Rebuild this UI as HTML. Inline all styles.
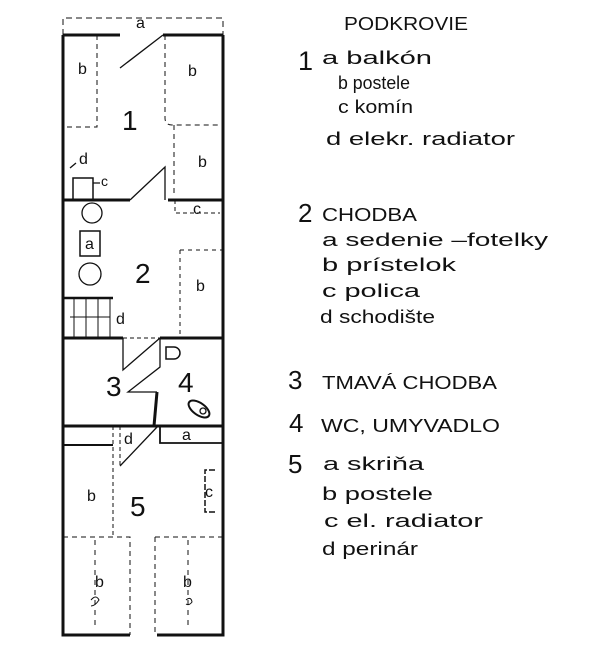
<!DOCTYPE html>
<html><head><style>
body{margin:0;background:#fff;width:600px;height:662px;overflow:hidden}
svg text{font-family:"Liberation Sans",sans-serif;fill:#111}
</style></head><body>
<svg width="600" height="662" viewBox="0 0 600 662">
<g stroke="#111" fill="none">
<path d="M63,35 V635 H130 M157,635 H223 V35" stroke-width="3"/>
<path d="M63,35 H120 M163,35 H223" stroke-width="3"/>
<path d="M63,35 V18 H223 V35" stroke-width="1" stroke-dasharray="6,4"/>
<path d="M120,68 L163,35 M130,200 L165,167 V200" stroke-width="1.3"/>
<path d="M63,200 H130 M168,200 H223" stroke-width="3"/>
<path d="M97,35 V127 H63 M165,35 V118 Q165,125 172,125 H222 M174,125 V195" stroke-width="1" stroke-dasharray="5,4"/>
<path d="M175,200 V213 H220" stroke-width="1" stroke-dasharray="4,3"/>
<rect x="73" y="178" width="20" height="22" stroke-width="1.5"/>
<path d="M93,183 H100 M70,168 L76,163" stroke-width="1.3"/>
<circle cx="92" cy="213" r="10" stroke-width="1.3"/>
<circle cx="90" cy="274" r="11" stroke-width="1.3"/>
<rect x="80" y="231" width="20" height="25" stroke-width="1.5"/>
<path d="M180,250 V338 M180,250 H222" stroke-width="1" stroke-dasharray="4,4"/>
<path d="M63,298 H113" stroke-width="2.5"/>
<path d="M74,298 V338 M86,298 V338 M98,298 V338 M110,298 V338 M70,317 H110" stroke-width="1"/>
<path d="M63,338 H123 M160,338 H223" stroke-width="3"/>
<path d="M123,338 H160" stroke-width="1" stroke-dasharray="4,3"/>
<path d="M123,338 V370 L160,338" stroke-width="1.3"/>
<path d="M160,338 V367 L128,392 H157" stroke-width="1.3"/>
<path d="M157,392 L154,426" stroke-width="3"/>
<path d="M166,347 h8 a6,6 0 0 1 0,12 h-8 z" stroke-width="1.5"/>
<ellipse cx="199" cy="409" rx="12" ry="6" transform="rotate(35 199 409)" stroke-width="2"/>
<circle cx="203" cy="411" r="3" stroke-width="1.3"/>
<path d="M63,426 H223" stroke-width="3"/>
<path d="M160,426 V443 H223" stroke-width="1.8"/>
<path d="M120,466 L158,426" stroke-width="1.3"/>
<path d="M63,445 H113" stroke-width="2"/>
<path d="M113,426 V538 M120,426 V466" stroke-width="1" stroke-dasharray="4,3"/>
<path d="M215,470 H205 V512 H215" stroke-width="1.5" stroke-dasharray="6,2"/>
<path d="M63,537 H130 V635 M155,537 H222 M155,537 V635" stroke-width="1" stroke-dasharray="5,4"/>
<path d="M95,540 V630 M188,540 V630" stroke-width="1" stroke-dasharray="5,5"/>
<path d="M91,600 q5,-6 8,0 q-4,6 -8,6 M186,600 q5,-4 6,2 q-3,4 -6,2" stroke-width="1"/>
</g>
<g font-size="16">
<text x="136" y="28">a</text>
<text x="78" y="74">b</text>
<text x="188" y="76">b</text>
<text x="198" y="167">b</text>
<text x="79" y="164">d</text>
<text x="101" y="186" font-size="14">c</text>
<text x="193" y="214">c</text>
<text x="85" y="249">a</text>
<text x="196" y="291">b</text>
<text x="116" y="324">d</text>
<text x="182" y="440">a</text>
<text x="124" y="444">d</text>
<text x="87" y="501">b</text>
<text x="205" y="497">c</text>
<text x="95" y="587">b</text>
<text x="183" y="587">b</text>
</g>
<g font-size="28">
<text x="122" y="130">1</text>
<text x="135" y="283">2</text>
<text x="106" y="396">3</text>
<text x="178" y="392">4</text>
<text x="130" y="516">5</text>
</g>
<g font-size="18">
<text x="344" y="30" textLength="124" lengthAdjust="spacingAndGlyphs">PODKROVIE</text>
<text x="298" y="70" font-size="27">1</text>
<text x="322" y="64" textLength="110" lengthAdjust="spacingAndGlyphs">a balkón</text>
<text x="338" y="89" textLength="72" lengthAdjust="spacingAndGlyphs">b postele</text>
<text x="338" y="113" textLength="75" lengthAdjust="spacingAndGlyphs">c komín</text>
<text x="326" y="145" textLength="189" lengthAdjust="spacingAndGlyphs">d elekr. radiator</text>
<text x="298" y="222" font-size="26">2</text>
<text x="322" y="221" textLength="95" lengthAdjust="spacingAndGlyphs">CHODBA</text>
<text x="322" y="246" textLength="226" lengthAdjust="spacingAndGlyphs">a sedenie –fotelky</text>
<text x="322" y="271" textLength="134" lengthAdjust="spacingAndGlyphs">b prístelok</text>
<text x="322" y="297" textLength="98" lengthAdjust="spacingAndGlyphs">c polica</text>
<text x="320" y="323" textLength="115" lengthAdjust="spacingAndGlyphs">d schodište</text>
<text x="288" y="389" font-size="26">3</text>
<text x="322" y="389" textLength="175" lengthAdjust="spacingAndGlyphs">TMAVÁ CHODBA</text>
<text x="289" y="432" font-size="26">4</text>
<text x="321" y="432" textLength="179" lengthAdjust="spacingAndGlyphs">WC, UMYVADLO</text>
<text x="288" y="473" font-size="26">5</text>
<text x="323" y="470" textLength="101" lengthAdjust="spacingAndGlyphs">a skriňa</text>
<text x="322" y="500" textLength="111" lengthAdjust="spacingAndGlyphs">b postele</text>
<text x="324" y="527" textLength="159" lengthAdjust="spacingAndGlyphs">c el. radiator</text>
<text x="322" y="555" textLength="96" lengthAdjust="spacingAndGlyphs">d perinár</text>
</g>
</svg>
</body></html>
